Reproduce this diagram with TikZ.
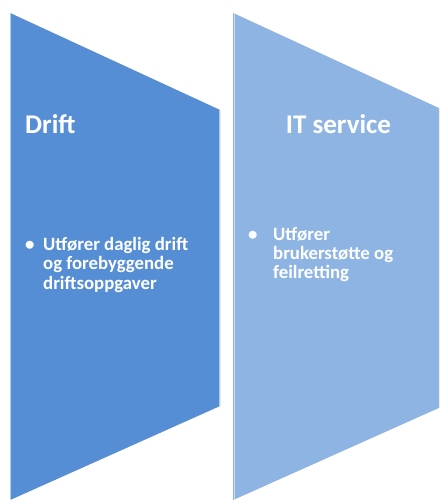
\documentclass[tikz,border=0pt]{standalone}
\usepackage{fontspec}
\setmainfont{Carlito}
\definecolor{driftblue}{RGB}{85,142,213}
\definecolor{itblue}{RGB}{142,180,227}

\begin{document}
\begin{tikzpicture}[x=1pt, y=-1pt,
  panelshadow/.style={fill=black, fill opacity=0.22},
  title/.style={font=\fontsize{27}{30}\selectfont\bfseries, text=white, inner sep=0pt},
  item/.style={font=\fontsize{18.8}{19.5}\selectfont\bfseries, text=white, inner sep=0pt, anchor=base west},
  edgelight/.style={draw=white, line width=1.2pt, opacity=0.55}]
\useasboundingbox (0,0) rectangle (439,500);
\clip (0,0) rectangle (439,500);

% panel outlines
\coordinate (d1) at (10,13);
\coordinate (d2) at (220,110);
\coordinate (d3) at (220,406);
\coordinate (d4) at (10,500);
\coordinate (s1) at (233,13);
\coordinate (s2) at (443,110);
\coordinate (s3) at (443,406);
\coordinate (s4) at (233,500);

% soft drop shadows
\fill[panelshadow, xshift=1.2pt, yshift=-1.6pt] (d1) -- (d2) -- (d3) -- (d4) -- cycle;
\fill[panelshadow, xshift=1.2pt, yshift=-1.6pt] (s1) -- (s2) -- (s3) -- (s4) -- cycle;

% the two panels
\fill[driftblue] (d1) -- (d2) -- (d3) -- (d4) -- cycle;
\fill[itblue] (s1) -- (s2) -- (s3) -- (s4) -- cycle;

% bevel highlights
\draw[edgelight] ([xshift=0.8pt]d1) -- ([xshift=0.8pt]d4);
\draw[edgelight] ([xshift=-0.8pt]d2) -- ([xshift=-0.8pt]d3);
\draw[edgelight] ([xshift=1.2pt]s1) -- ([xshift=1.2pt]s4);

% Drift panel text
\node[title, anchor=base west] (drifttitle) at (25,133) {Drift};
\node[item] (driftl1) at (25,250) {\makebox[18pt][l]{•}Utfører daglig drift};
\node[item] (driftl2) at (43,269.5) {og forebyggende};
\node[item] (driftl3) at (43,289) {driftsoppgaver};

% IT service panel text
\node[title, anchor=base] (ittitle) at (338.5,133) {IT service};
\node[item] (itl1) at (248,240) {\makebox[25pt][l]{•}Utfører};
\node[item] (itl2) at (273,259) {brukerstøtte og};
\node[item] (itl3) at (273,278) {feilretting};
\end{tikzpicture}
\end{document}
